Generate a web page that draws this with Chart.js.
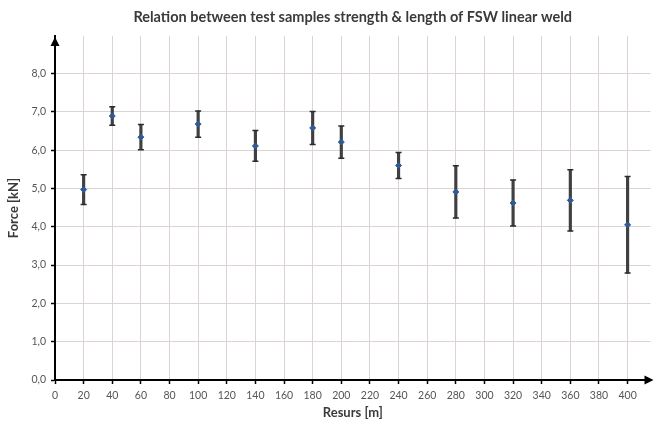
<!DOCTYPE html>
<html>
<head>
<meta charset="utf-8">
<script src="https://cdn.jsdelivr.net/npm/chart.js@4/dist/chart.umd.min.js"></script>
<style>
  html, body { margin: 0; padding: 0; background: #fff; }
  #wrap { width: 656px; height: 425px; }
</style>
</head>
<body>
<div id="wrap"><canvas id="weldChart" width="656" height="425"></canvas></div>
<script>
// data
const resurs = [20, 40, 60, 100, 140, 180, 200, 240, 280, 320, 360, 400];
const force = [4.97, 6.89, 6.34, 6.68, 6.11, 6.58, 6.21, 5.60, 4.91, 4.62, 4.69, 4.05];
const errors = [0.39, 0.24, 0.33, 0.34, 0.40, 0.43, 0.42, 0.34, 0.68, 0.60, 0.80, 1.26];

const chartTitle = "Relation between test samples strength & length of FSW linear weld";
const xTitle = "Resurs [m]";
const yTitle = "Force [kN]";

const points = resurs.map((x, i) => ({ x: x, y: force[i] }));
const errorBars = resurs.map((x, i) => ({ x: x, y: [force[i] - errors[i], force[i] + errors[i]] }));
const errorCaps = [];
resurs.forEach((x, i) => {
  errorCaps.push({ x: x, y: force[i] - errors[i] });
  errorCaps.push({ x: x, y: force[i] + errors[i] });
});

// small arrow heads at the ends of both axes
const axisArrows = {
  id: "axisArrows",
  afterDraw(chart) {
    const { ctx, chartArea } = chart;
    ctx.save();
    ctx.fillStyle = "#000";
    ctx.beginPath();
    ctx.moveTo(chartArea.left, chartArea.top + 1);
    ctx.lineTo(chartArea.left - 4.5, chartArea.top + 10);
    ctx.lineTo(chartArea.left + 4.5, chartArea.top + 10);
    ctx.closePath();
    ctx.fill();
    ctx.beginPath();
    ctx.moveTo(chartArea.right + 3, chartArea.bottom);
    ctx.lineTo(chartArea.right - 6, chartArea.bottom - 4.5);
    ctx.lineTo(chartArea.right - 6, chartArea.bottom + 4.5);
    ctx.closePath();
    ctx.fill();
    ctx.restore();
  }
};

const tickFont = { family: "Lato", size: 10.5 };
const boldFont = { family: "Lato", size: 13, weight: "bold" };

new Chart(document.getElementById("weldChart"), {
  type: "scatter",
  data: {
    datasets: [
      {
        label: "Force",
        data: points,
        pointStyle: "rectRot",
        pointRadius: 3,
        backgroundColor: "#2f5a96",
        borderColor: "#2f5a96",
        borderWidth: 1,
        order: 0
      },
      {
        type: "bar",
        label: "Error",
        data: errorBars,
        barThickness: 2.5,
        backgroundColor: "#404040",
        borderWidth: 0,
        order: 2
      },
      {
        label: "Caps",
        data: errorCaps,
        pointStyle: "line",
        pointRadius: 3,
        borderColor: "#2b2b2b",
        borderWidth: 1.5,
        order: 1
      }
    ]
  },
  options: {
    responsive: false,
    animation: false,
    layout: { padding: { left: 0, right: 4, top: 0, bottom: 0 } },
    plugins: {
      legend: { display: false },
      tooltip: { enabled: false },
      title: {
        display: true,
        fullSize: false,
        text: chartTitle,
        color: "#3a3a3a",
        font: { family: "Lato", size: 14.5, weight: "bold" },
        padding: { top: 9, bottom: 9.6 }
      }
    },
    scales: {
      x: {
        type: "linear",
        min: 0,
        max: 416,
        offset: false,
        afterFit: (scale) => { scale.height = 45; },
        ticks: {
          stepSize: 20,
          includeBounds: false,
          color: "#555",
          font: tickFont,
          padding: 5,
          maxRotation: 0,
          autoSkip: false
        },
        grid: {
          offset: false,
          color: "#dcd4d4",
          lineWidth: 1,
          tickColor: "#000",
          tickLength: 4,
          tickWidth: 1.5
        },
        border: { display: true, color: "#000", width: 2 },
        title: {
          display: true,
          text: xTitle,
          color: "#3a3a3a",
          font: boldFont,
          padding: { top: 0, bottom: 4 }
        }
      },
      y: {
        type: "linear",
        min: 0,
        max: 8.98,
        afterFit: (scale) => { scale.width = 55; },
        ticks: {
          stepSize: 1,
          includeBounds: false,
          color: "#555",
          font: tickFont,
          padding: 5,
          callback: (v) => v.toFixed(1).replace(".", ",")
        },
        grid: {
          color: "#dcd4d4",
          lineWidth: 1,
          tickColor: "#000",
          tickLength: 4,
          tickWidth: 1.5
        },
        border: { display: true, color: "#000", width: 2 },
        title: {
          display: true,
          text: yTitle,
          color: "#3a3a3a",
          font: boldFont,
          padding: { top: 6, bottom: 0 }
        }
      }
    }
  },
  plugins: [axisArrows]
});
</script>
</body>
</html>
